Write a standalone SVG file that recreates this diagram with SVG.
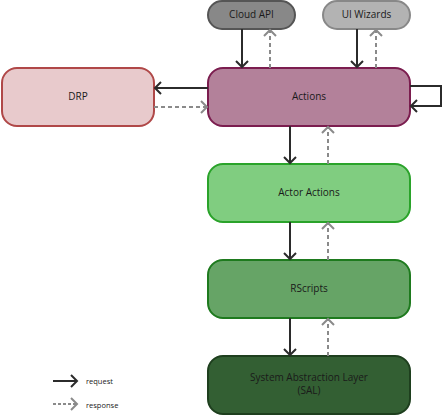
<svg xmlns="http://www.w3.org/2000/svg" width="443" height="415" viewBox="0 0 443 415">
<defs>
<marker id="req" markerWidth="14" markerHeight="14" viewBox="-7 -7 14 14" refX="0" refY="0" orient="auto" markerUnits="userSpaceOnUse">
<path d="M-6,-6 L0,0 L-6,6" fill="none" stroke="#2b2b2b" stroke-width="2"/>
</marker>
<marker id="res" markerWidth="14" markerHeight="14" viewBox="-7 -7 14 14" refX="0" refY="0" orient="auto" markerUnits="userSpaceOnUse">
<path d="M-6,-6 L0,0 L-6,6" fill="none" stroke="#8a8a8a" stroke-width="2"/>
</marker>
<style>
text{font-family:"Open Sans","DejaVu Sans",sans-serif;font-size:10px;fill:#1a1a1a;text-anchor:middle}
.node{stroke-width:2}
.req{fill:none;stroke:#2b2b2b;stroke-width:2;marker-end:url(#req)}
.res{fill:none;stroke:#8a8a8a;stroke-width:2;stroke-dasharray:4 3;marker-end:url(#res)}
.legend{font-size:7.5px;text-anchor:start}
</style>
</defs>
<g id="cloud-api"><rect class="node" x="208" y="1" width="87" height="28" rx="14" fill="#888888" stroke="#555555"/><text x="251.5" y="18">Cloud API</text></g>
<g id="ui-wizards"><rect class="node" x="323" y="1" width="87" height="28" rx="14" fill="#b3b3b3" stroke="#888888"/><text x="366.5" y="18">UI Wizards</text></g>
<g id="drp"><rect class="node" x="2" y="68" width="152" height="58" rx="15" fill="#e8cacc" stroke="#b04848"/><text x="78" y="99.5">DRP</text></g>
<g id="actions"><rect class="node" x="208" y="68" width="202" height="58" rx="15" fill="#b3819a" stroke="#7b1d4f"/><text x="309" y="99.5">Actions</text></g>
<g id="actor-actions"><rect class="node" x="208" y="164" width="202" height="58" rx="15" fill="#80cd80" stroke="#2aa32a"/><text x="309" y="195.5">Actor Actions</text></g>
<g id="rscripts"><rect class="node" x="208" y="260" width="202" height="58" rx="15" fill="#66a466" stroke="#1e7a1e"/><text x="309" y="291.5">RScripts</text></g>
<g id="sal"><rect class="node" x="208" y="356" width="202" height="58" rx="15" fill="#335f33" stroke="#1e3f1e"/><text x="309" y="381">System Abstraction Layer</text><text x="309" y="394">(SAL)</text></g>
<g id="connectors">
<path class="req" d="M242,29 V67"/>
<path class="res" d="M270,68 V30"/>
<path class="req" d="M357,29 V67"/>
<path class="res" d="M376,68 V30"/>
<path class="req" d="M208,88 H155"/>
<path class="res" d="M154,107 H207"/>
<path class="req" d="M410,86 H441 V106 H411"/>
<path class="req" d="M290,126 V163"/>
<path class="res" d="M328,164 V127"/>
<path class="req" d="M290,222 V259"/>
<path class="res" d="M328,260 V223"/>
<path class="req" d="M290,318 V355"/>
<path class="res" d="M328,356 V319"/>
<path class="req" d="M53,381 H77"/>
<path class="res" d="M53,404 H77" style="stroke-dasharray:3 2"/>
</g>
<g id="legend"><text class="legend" x="86" y="384">request</text><text class="legend" x="86" y="407.5">response</text></g>
</svg>
